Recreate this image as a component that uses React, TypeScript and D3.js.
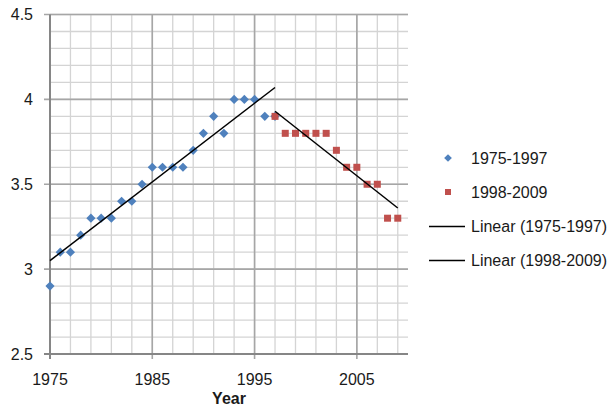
import React from 'react'
import * as d3 from 'd3'

// values
const blueYears = [1975, 1976, 1977, 1978, 1979, 1980, 1981, 1982, 1983, 1984, 1985, 1986, 1987, 1988, 1989, 1990, 1991, 1992, 1993, 1994, 1995, 1996, 1997]
const blueValues = [2.9, 3.1, 3.1, 3.2, 3.3, 3.3, 3.3, 3.4, 3.4, 3.5, 3.6, 3.6, 3.6, 3.6, 3.7, 3.8, 3.9, 3.8, 4.0, 4.0, 4.0, 3.9, 3.9]
const redYears = [1997, 1998, 1999, 2000, 2001, 2002, 2003, 2004, 2005, 2006, 2007, 2008, 2009]
const redValues = [3.9, 3.8, 3.8, 3.8, 3.8, 3.8, 3.7, 3.6, 3.6, 3.5, 3.5, 3.3, 3.3]
// linear trend lines (start / end as drawn)
const blueTrend: [number, number][] = [[1975, 3.05], [1997, 4.07]]
const redTrend: [number, number][] = [[1997, 3.93], [2009, 3.36]]

const xTicks = [1975, 1985, 1995, 2005]
const yTicks = [2.5, 3, 3.5, 4, 4.5]
const legendNames = ['1975-1997', '1998-2009', 'Linear (1975-1997)', 'Linear (1998-2009)']

const BLUE = '#4F81BD'
const RED = '#C0504D'
const FONT = '"Liberation Sans", Arial, sans-serif'

export default function App() {
  const x = d3.scaleLinear().domain([1975, 2010]).range([50, 408])
  const y = d3.scaleLinear().domain([2.5, 4.5]).range([354, 14.5])

  const minorX = d3.range(1975, 2010, 2)
  const minorY = d3.range(25, 46).map(d => d / 10)
  const line = d3.line<[number, number]>().x(d => x(d[0])).y(d => y(d[1]))
  // excel style diamond: a square turned 45 degrees
  const diamond = d3.symbol().type(d3.symbolSquare).size(42)()

  const legendY = [158, 192, 226.5, 260.5]

  return (
    <svg width={614} height={407} style={{ position: 'absolute', left: 0, top: 0, background: '#fff' }}
      fontFamily={FONT}>
      {/* minor grid */}
      {minorY.map(v => (
        <line key={'hy' + v} x1={x(1975)} x2={x(2010)} y1={y(v)} y2={y(v)} stroke="#d4d4d4" strokeWidth={1.3} />
      ))}
      {minorX.map(v => (
        <line key={'vx' + v} x1={x(v)} x2={x(v)} y1={y(2.5)} y2={y(4.5)} stroke="#d4d4d4" strokeWidth={1.3} />
      ))}
      {/* major grid */}
      {yTicks.map(v => (
        <line key={'My' + v} x1={x(1975) - 6} x2={x(2010)} y1={y(v)} y2={y(v)} stroke="#a6a6a6" strokeWidth={1.6} />
      ))}
      {xTicks.map(v => (
        <line key={'Mx' + v} x1={x(v)} x2={x(v)} y1={y(2.5) + 5} y2={y(4.5)} stroke="#a6a6a6" strokeWidth={1.6} />
      ))}
      {/* axes */}
      <line x1={x(1975)} x2={x(1975)} y1={y(2.5) + 5} y2={y(4.5)} stroke="#868686" strokeWidth={2} />
      <line x1={x(1975) - 6} x2={x(2010)} y1={y(2.5)} y2={y(2.5)} stroke="#868686" strokeWidth={2} />

      {yTicks.map(v => (
        <text key={'yl' + v} x={33} y={y(v)} dy="0.36em" textAnchor="end" fontSize={16} fill="#1a1a1a">{v}</text>
      ))}
      {xTicks.map(v => (
        <text key={'xl' + v} x={x(v)} y={384.5} textAnchor="middle" fontSize={16} fill="#1a1a1a">{v}</text>
      ))}
      <text x={(x(1975) + x(2010)) / 2} y={404} textAnchor="middle" fontSize={16} fontWeight="bold" fill="#1a1a1a">Year</text>

      {/* points */}
      {blueYears.map((yr, i) => (
        <path key={'b' + yr} d={diamond} transform={`translate(${x(yr)},${y(blueValues[i])}) rotate(45)`} fill={BLUE} />
      ))}
      {redYears.map((yr, i) => (
        <rect key={'r' + yr} x={x(yr) - 3.5} y={y(redValues[i]) - 3.5} width={7} height={7} fill={RED} />
      ))}

      {/* trend lines */}
      <path d={line(blueTrend) || ''} fill="none" stroke="#000" strokeWidth={1.5} />
      <path d={line(redTrend) || ''} fill="none" stroke="#000" strokeWidth={1.5} />

      {/* legend */}
      <path d={d3.symbol().type(d3.symbolSquare).size(30)()} transform={`translate(448,${legendY[0]}) rotate(45)`} fill={BLUE} />
      <rect x={445} y={legendY[1] - 3} width={6} height={6} fill={RED} />
      <line x1={429} x2={465} y1={legendY[2]} y2={legendY[2]} stroke="#000" strokeWidth={1.5} />
      <line x1={429} x2={465} y1={legendY[3]} y2={legendY[3]} stroke="#000" strokeWidth={1.5} />
      {legendNames.map((n, i) => (
        <text key={n} x={471} y={legendY[i]} dy="0.36em" fontSize={16} fill="#1a1a1a">{n}</text>
      ))}
    </svg>
  )
}
